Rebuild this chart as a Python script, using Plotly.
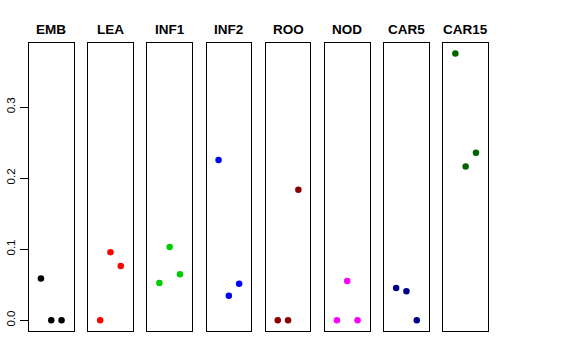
import plotly.graph_objects as go

tissues = ["EMB", "LEA", "INF1", "INF2", "ROO", "NOD", "CAR5", "CAR15"]
colors = ["#000000", "#FF0000", "#00CD00", "#0000FF", "#8B0000", "#FF00FF", "#00008B", "#006400"]
x_pos = [1, 2, 3]
emb = [0.059, 0.0, 0.0]
lea = [0.0, 0.0958, 0.0765]
inf1 = [0.0525, 0.1032, 0.0648]
inf2 = [0.2254, 0.0347, 0.0516]
roo = [0.0, 0.0, 0.1835]
nod = [0.0, 0.0554, 0.0]
car5 = [0.0455, 0.0408, 0.0]
car15 = [0.3755, 0.2163, 0.2356]
series = [emb, lea, inf1, inf2, roo, nod, car5, car15]
y_ticks = [0.0, 0.1, 0.2, 0.3]
y_ticklabels = ["0.0", "0.1", "0.2", "0.3"]

W, H = 576, 360
left0 = 29.0
step = 59.2
pw = 44.5
ytop, ybot = 42.7, 331.0

ymax = max(max(s) for s in series)
ymin = 0.0
pad = 0.04 * (ymax - ymin)
yrange = [ymin - pad, ymax + pad]
xrange_ = [0 - 0.16, 4 + 0.16]

fig = go.Figure()
layout = dict(
    width=W, height=H,
    margin=dict(l=0, r=0, t=0, b=0, autoexpand=False),
    paper_bgcolor="white", plot_bgcolor="white",
    showlegend=False,
    font=dict(family="Liberation Sans, Arial, sans-serif", color="black"),
)
annotations = []
for i, (name, col, vals) in enumerate(zip(tissues, colors, series)):
    xa = "x" if i == 0 else f"x{i+1}"
    ya = "y" if i == 0 else f"y{i+1}"
    fig.add_trace(go.Scatter(x=x_pos, y=vals, mode="markers",
                             marker=dict(color=col, size=6.5, line=dict(width=0)),
                             xaxis=xa, yaxis=ya, hoverinfo="skip"))
    x0 = left0 + i * step
    d0, d1 = x0 / W, (x0 + pw) / W
    xkey = "xaxis" if i == 0 else f"xaxis{i+1}"
    ykey = "yaxis" if i == 0 else f"yaxis{i+1}"
    layout[xkey] = dict(domain=[d0, d1], range=xrange_, showgrid=False, zeroline=False,
                        showticklabels=False, ticks="", showline=True, mirror=True,
                        linecolor="black", linewidth=1, anchor=ya, fixedrange=True,
                        automargin=False)
    ydict = dict(domain=[1 - ybot / H, 1 - ytop / H], range=yrange, showgrid=False,
                 zeroline=False, showline=True, mirror=True, linecolor="black",
                 linewidth=1, anchor=xa, automargin=False, fixedrange=True)
    if i == 0:
        ydict.update(tickvals=y_ticks, ticktext=y_ticklabels, ticks="outside",
                     ticklen=8, tickcolor="black", tickwidth=1, tickangle=-90,
                     tickfont=dict(size=11.5, color="black"))
    else:
        ydict.update(showticklabels=False, ticks="")
    layout[ykey] = ydict
    annotations.append(dict(text=f"<b>{name}</b>", x=(x0 + pw / 2) / W, y=1 - 29.3 / H,
                            xref="paper", yref="paper", xanchor="center", yanchor="middle",
                            showarrow=False, font=dict(size=13.5, color="black")))
layout["annotations"] = annotations
fig.update_layout(**layout)
fig.write_html("out.html", config={"displayModeBar": False},
               post_script="document.body.style.margin='0';document.body.style.overflow='hidden';")
